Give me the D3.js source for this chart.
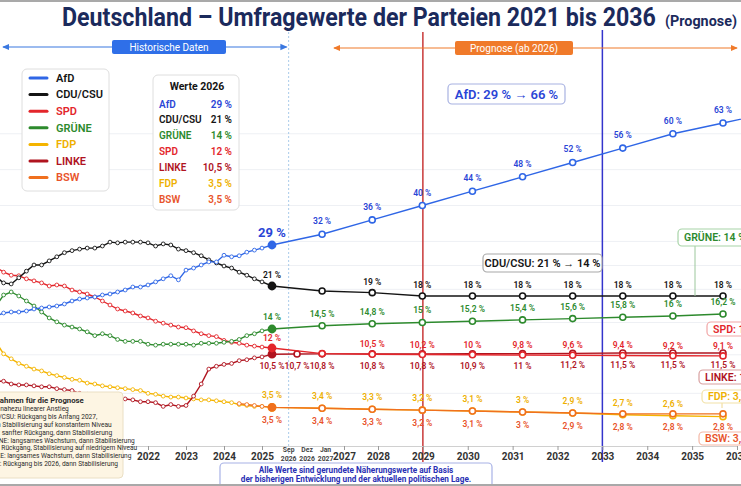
<!DOCTYPE html>
<meta charset="utf-8">
<script src="https://d3js.org/d3.v7.min.js"></script>
<style>
  body { margin: 0; background: #fff; }
  svg { display: block; font-family: Roboto, "Noto Sans", sans-serif; }
</style>

<div id="chart"></div>

<script>

var W = 741, H = 486

////  Daten
var parteien   = ["AfD", "CDU/CSU", "SPD", "GRÜNE", "FDP", "LINKE", "BSW"]
var farben     = ["#2f66e6", "#141414", "#e3262b", "#2d8a2d", "#f4b400", "#b0141f", "#f0701e"]
var textFarben = ["#2a45d6", "#141414", "#e3262b", "#2d8a2d", "#eeb000", "#b0141f", "#e8532a"]

// historische Werte, alle 0,2 Jahre
var histStart = 2018, histSchritt = 0.2
var histAfD    = [16.0, 16.3, 16.4, 16.4, 16.5, 16.7, 16.8, 16.9, 17.0, 17.2, 17.5, 17.7, 17.8, 17.9, 18.3, 18.6, 19.2, 19.8, 20.7, 20.7, 21.2, 21.8, 22.4, 23.0, 22.2, 24.1, 24.5, 25.1, 25.7, 25.7, 27.0, 26.7, 26.9, 27.6, 28.0, 28.4]
var histCDU    = [22.8, 21.6, 21.4, 22.6, 23.9, 25.1, 25.1, 25.9, 26.7, 27.5, 27.9, 28.2, 28.4, 28.4, 28.8, 29.8, 29.6, 29.8, 29.8, 29.8, 29.6, 28.8, 29.3, 29.0, 28.2, 27.9, 27.5, 26.9, 26.1, 25.5, 24.9, 24.5, 23.7, 23.1, 22.4, 21.8]
var histSPD    = [24.7, 23.7, 23.1, 23.0, 22.4, 22.0, 21.6, 21.0, 21.2, 21.0, 19.8, 19.2, 18.6, 17.9, 17.5, 17.1, 16.7, 16.5, 16.3, 16.0, 15.7, 15.2, 14.9, 14.6, 14.3, 14.2, 13.8, 13.5, 13.3, 13.2, 12.8, 12.6, 12.5, 12.3, 12.2, 12.1]
var histGruene = [17.0, 18.3, 19.2, 18.0, 17.5, 17.0, 16.4, 15.7, 15.1, 14.6, 14.3, 14.0, 13.7, 13.3, 13.5, 13.3, 12.9, 12.7, 12.7, 12.7, 12.4, 12.3, 12.4, 12.4, 12.4, 12.4, 12.3, 12.5, 12.5, 12.5, 12.6, 12.7, 12.9, 13.3, 13.5, 13.8]
var histFDP    = [12.6, 10.8, 8.7, 8.2, 7.9, 7.6, 7.4, 7.1, 6.9, 6.7, 6.5, 6.4, 6.1, 6.0, 5.8, 5.7, 5.6, 5.5, 5.4, 5.3, 5.0, 4.9, 4.7, 4.6, 4.6, 4.5, 4.4, 4.3, 4.3, 4.2, 4.1, 4.0, 3.8, 3.7, 3.6, 3.6]
var histLinke  = [6.3, 6.3, 6.0, 5.9, 5.9, 5.8, 5.7, 5.7, 5.5, 5.4, 5.3, 5.0, 4.9, 4.8, 4.7, 4.6, 4.5, 4.4, 4.3, 4.1, 4.1, 4.0, 3.6, 3.8, 3.6, 3.7, 4.7, 6.0, 7.6, 7.9, 8.1, 8.2, 8.5, 8.6, 8.8, 8.9]
var bswStart   = 2024.4
var histBSW    = [3.9, 3.8, 3.7, 3.6]

// Prognose
var progJahre  = [2026, 2027, 2028, 2029, 2030, 2031, 2032, 2033, 2034, 2035, 2036]
var progAfD    = [29, 32, 36, 40, 44, 48, 52, 56, 60, 63, 66]
var progCDU    = [21, 19.5, 19, 18, 18, 18, 18, 18, 18, 18]
var progSPD    = [12, 11, 10.5, 10.2, 10, 9.8, 9.6, 9.4, 9.2, 9.1]
var progGruene = [14, 14.5, 14.8, 15, 15.2, 15.4, 15.6, 15.8, 16, 16.2]
var progFDP    = [3.5, 3.4, 3.3, 3.2, 3.1, 3, 2.9, 2.7, 2.6, 2.5]
var progLinke  = [10.5, 10.8, 10.8, 10.8, 10.9, 11, 11.2, 11.5, 11.5, 11.5]
var zwischenLinke = [2026.5, 10.7]
var ohneLabel  = ["CDU/CSU 2027", "SPD 2027", "FDP 2035"]
var progBSW    = [3.5, 3.4, 3.3, 3.2, 3.1, 3, 2.9, 2.8, 2.8, 2.8]

// Achse (wie im Original, ungleichmäßig)
var achsenJahre = [2022, 2023, 2024, 2025, 2027, 2028, 2029, 2030, 2031, 2032, 2033, 2034, 2035, 2036]
var kleineTicks = [[2025.65, "Sep", "2026"], [2026.1, "Dez", "2026"], [2026.55, "Jan", "2027"]]

var annahmen = [
  "AfD: nahezu linearer Anstieg",
  "CDU/CSU: Rückgang bis Anfang 2027,",
  "dann Stabilisierung auf konstantem Niveau",
  "SPD: sanfter Rückgang, dann Stabilisierung",
  "GRÜNE: langsames Wachstum, dann Stabilisierung",
  "FDP: Rückgang, Stabilisierung auf niedrigem Niveau",
  "LINKE: langsames Wachstum, dann Stabilisierung",
  "BSW: Rückgang bis 2026, dann Stabilisierung"
]

var histListen = [histAfD, histCDU, histSPD, histGruene, histFDP, histLinke, histBSW]
var progListen = [progAfD, progCDU, progSPD, progGruene, progFDP, progLinke, progBSW]

function prozent(v) { return String(v).replace(".", ",") + " %" }

////  Skalen
var x = d3.scaleLinear().domain([2018, 2025, 2026, 2035]).range([-4, 262, 272, 723])
var xAchse = d3.scaleLinear().domain([2021, 2025, 2027, 2028, 2036]).range([110, 262, 344, 378, 737])
var y = d3.scaleLinear()
  .domain([0, 9, 11.5, 12, 14, 16, 18, 21, 29, 63, 70])
  .range([440, 356, 353, 348, 329, 316, 296, 286, 245, 123, 98])

var svg = d3.select("#chart").append("svg")
  .attr("width", W)
  .attr("height", H)

var defs = svg.append("defs")
function pfeil(id, farbe) {
  defs.append("marker").attr("id", id)
    .attr("viewBox", "0 0 8 8").attr("refX", 7).attr("refY", 4)
    .attr("markerWidth", 6).attr("markerHeight", 6)
    .attr("orient", "auto-start-reverse")
    .append("path").attr("d", "M0,0.5L8,4L0,7.5Z").attr("fill", farbe)
}
pfeil("pfeilBlau", "#3a78e0")
pfeil("pfeilOrange", "#f07a2a")

// Gitter
svg.append("g").selectAll("line")
  .data([5, 10, 15, 20, 25, 30, 40, 50, 60])
  .join("line")
    .attr("x1", 0).attr("x2", W)
    .attr("y1", d => y(d)).attr("y2", d => y(d))
    .attr("stroke", "#eef0f4")

// Rahmen
svg.append("rect").attr("x", 0).attr("y", 0).attr("width", W).attr("height", 2).attr("fill", "#a9a9a9")

////  Titel (auf Breite gestaucht)
function titel(text, x0, breite, groesse) {
  var t = svg.append("text")
    .attr("font-size", groesse).attr("font-weight", 700).attr("fill", "#1b2a5c")
    .text(text)
  var w = t.node().getComputedTextLength()
  t.attr("transform", "translate(" + x0 + ",26) scale(" + (breite / w) + ",1)")
}
titel("Deutschland – Umfragewerte der Parteien 2021 bis 2036", 62, 594, 25)
titel("(Prognose)", 665, 72, 15)

////  senkrechte Linien
svg.append("line")
  .attr("x1", xAchse(kleineTicks[0][0])).attr("x2", xAchse(kleineTicks[0][0]))
  .attr("y1", 32).attr("y2", 464)
  .attr("stroke", "#a9cbea").attr("stroke-dasharray", "2,2")
svg.append("line")
  .attr("x1", xAchse(2029)).attr("x2", xAchse(2029))
  .attr("y1", 32).attr("y2", 462)
  .attr("stroke", "#c93838").attr("stroke-width", 1.5)
svg.append("line")
  .attr("x1", xAchse(2033)).attr("x2", xAchse(2033))
  .attr("y1", 30).attr("y2", 462)
  .attr("stroke", "#3434cc").attr("stroke-width", 1.5)

////  Pfeile oben
svg.append("line")
  .attr("x1", 3).attr("x2", xAchse(kleineTicks[0][0]) - 2)
  .attr("y1", 47).attr("y2", 47)
  .attr("stroke", "#3a78e0").attr("stroke-width", 1.2)
  .attr("marker-start", "url(#pfeilBlau)").attr("marker-end", "url(#pfeilBlau)")
svg.append("rect").attr("x", 112).attr("y", 40).attr("width", 114).attr("height", 14).attr("rx", 2).attr("fill", "#2f6fe8")
svg.append("text").attr("x", 169).attr("y", 47).attr("dy", "0.35em")
  .attr("text-anchor", "middle").attr("font-size", 10).attr("fill", "#fff")
  .text("Historische Daten")

svg.append("line")
  .attr("x1", 334).attr("x2", 737)
  .attr("y1", 48).attr("y2", 48)
  .attr("stroke", "#f07a2a").attr("stroke-width", 1.2)
  .attr("marker-start", "url(#pfeilOrange)").attr("marker-end", "url(#pfeilOrange)")
svg.append("rect").attr("x", 455).attr("y", 41).attr("width", 118).attr("height", 14).attr("rx", 2).attr("fill", "#f07a2a")
svg.append("text").attr("x", 514).attr("y", 48).attr("dy", "0.35em")
  .attr("text-anchor", "middle").attr("font-size", 10).attr("fill", "#fff")
  .text("Prognose (ab 2026)")

////  Achse
var achse = svg.append("g")
  .attr("transform", "translate(0,446)")
  .call(d3.axisBottom(xAchse).tickValues(achsenJahre).tickFormat(d3.format("d")).tickSize(4).tickSizeOuter(0).tickPadding(3))
achse.select(".domain").attr("stroke", "#d0d0d0")
achse.selectAll(".tick line").attr("stroke", "#9a9a9a")
achse.selectAll(".tick text")
  .attr("font-size", 10).attr("font-weight", 700).attr("fill", "#333")
  .attr("font-family", "Roboto, sans-serif")

var klein = svg.append("g").selectAll("text")
  .data(kleineTicks)
  .join("text")
    .attr("x", d => xAchse(d[0]))
    .attr("y", 452)
    .attr("text-anchor", "middle")
    .attr("font-size", 6.8).attr("font-weight", 700).attr("fill", "#444")
klein.append("tspan").attr("x", d => xAchse(d[0])).text(d => d[1])
klein.append("tspan").attr("x", d => xAchse(d[0])).attr("dy", 8.5).text(d => d[2])

////  Serien
var serien = parteien.map(function (p, k) {
  var start = p == "BSW" ? bswStart : histStart
  var hist = histListen[k].map(function (v, i) {
    return { t: start + i * histSchritt, v: v, hist: true }
  })
  var prog = progListen[k].map(function (v, i) {
    return { t: progJahre[i], v: v, hist: false, label: ohneLabel.indexOf(p + " " + progJahre[i]) < 0 }
  })
  if (p == "LINKE") prog.splice(1, 0, { t: zwischenLinke[0], v: zwischenLinke[1], hist: false, label: true })
  return { name: p, farbe: farben[k], textFarbe: textFarben[k], hist: hist, prog: prog, punkte: hist.concat(prog) }
})

var reihenfolge = ["FDP", "BSW", "LINKE", "SPD", "GRÜNE", "CDU/CSU", "AfD"]
var labelDy = { "AfD": -13, "CDU/CSU": -11, "SPD": -10, "GRÜNE": -12, "FDP": -12, "LINKE": 12, "BSW": 13 }

var linie = d3.line().x(d => x(d.t)).y(d => y(d.v))

reihenfolge.forEach(function (name) {
  var s = serien.find(d => d.name == name)
  var g = svg.append("g")

  g.append("path")
    .attr("d", linie(s.punkte))
    .attr("fill", "none")
    .attr("stroke", s.farbe)
    .attr("stroke-width", 1.4)

  g.selectAll("circle.h")
    .data(s.hist)
    .join("circle")
      .attr("class", "h")
      .attr("cx", d => x(d.t)).attr("cy", d => y(d.v))
      .attr("r", 1.9)
      .attr("fill", "#fff").attr("stroke", s.farbe).attr("stroke-width", 0.9)

  g.selectAll("circle.p")
    .data(s.prog)
    .join("circle")
      .attr("class", "p")
      .attr("cx", d => x(d.t)).attr("cy", d => y(d.v))
      .attr("r", d => d.t == 2026 ? 3.6 : 3)
      .attr("fill", d => d.t == 2026 ? s.farbe : "#fff")
      .attr("stroke", s.farbe).attr("stroke-width", 1.6)
})

// Wertbeschriftungen
reihenfolge.forEach(function (name) {
  var s = serien.find(d => d.name == name)
  svg.append("g").selectAll("text")
    .data(s.prog.filter(d => d.label))
    .join("text")
      .attr("x", d => x(d.t))
      .attr("y", d => y(d.v) + labelDy[name])
      .attr("dy", "0.35em")
      .attr("text-anchor", "middle")
      .attr("font-size", d => (name == "AfD" && d.t == 2026) ? 13 : 8.5)
      .attr("font-weight", d => (name == "AfD" && d.t == 2026) ? 700 : 600)
      .attr("fill", s.textFarbe)
      .text(d => prozent(d.v))
})

////  Legende
var legende = svg.append("g")
legende.append("rect")
  .attr("x", 22).attr("y", 69).attr("width", 87).attr("height", 122).attr("rx", 5)
  .attr("fill", "#fff").attr("stroke", "#dedede")
var eintrag = legende.selectAll("g")
  .data(parteien)
  .join("g")
    .attr("transform", (d, i) => "translate(0," + (78 + i * 16.6) + ")")
eintrag.append("line")
  .attr("x1", 30).attr("x2", 47)
  .attr("stroke", (d, i) => farben[i]).attr("stroke-width", 3).attr("stroke-linecap", "round")
eintrag.append("text")
  .attr("x", 56).attr("dy", "0.35em")
  .attr("font-size", 11).attr("font-weight", 600)
  .attr("fill", (d, i) => i < 2 ? "#141414" : textFarben[i])
  .text(d => d)

////  Werte 2026
var werte = parteien.map((p, k) => ({ name: p, wert: progListen[k][0], farbe: textFarben[k] }))
  .sort((a, b) => b.wert - a.wert)
var box = svg.append("g")
box.append("rect")
  .attr("x", 153).attr("y", 75).attr("width", 86).attr("height", 135).attr("rx", 5)
  .attr("fill", "#fff").attr("stroke", "#dedede")
box.append("text")
  .attr("x", 197).attr("y", 86).attr("dy", "0.35em")
  .attr("text-anchor", "middle").attr("font-size", 10.5).attr("font-weight", 700).attr("fill", "#141414")
  .text("Werte 2026")
var zeile = box.selectAll("g.zeile")
  .data(werte)
  .join("g")
    .attr("class", "zeile")
    .attr("transform", (d, i) => "translate(0," + (104 + i * 15.9) + ")")
zeile.append("text")
  .attr("x", 159).attr("dy", "0.35em")
  .attr("font-size", 10).attr("font-weight", 600).attr("fill", d => d.farbe)
  .text(d => d.name)
zeile.append("text")
  .attr("x", 232).attr("dy", "0.35em").attr("text-anchor", "end")
  .attr("font-size", 10).attr("font-weight", 600).attr("fill", d => d.farbe)
  .text(d => prozent(d.wert))

////  Hinweisboxen
function hinweis(bx, by, bw, bh, text, rand, farbe, groesse, mitte) {
  var g = svg.append("g")
  g.append("rect")
    .attr("x", bx).attr("y", by).attr("width", bw).attr("height", bh).attr("rx", 4)
    .attr("fill", "#fff").attr("stroke", rand).attr("stroke-width", 1.2)
  g.append("text")
    .attr("x", mitte ? bx + bw / 2 : bx + 6)
    .attr("y", by + bh / 2).attr("dy", "0.36em")
    .attr("text-anchor", mitte ? "middle" : "start")
    .attr("font-size", groesse).attr("font-weight", 600).attr("fill", farbe)
    .text(text)
  return g
}

hinweis(448, 84, 117, 20, "AfD: " + prozent(progAfD[0]) + " → " + prozent(progAfD[progAfD.length - 1]), "#a8b2e2", "#2a45d6", 13, true)
hinweis(483, 254, 119, 18, "CDU/CSU: " + prozent(progCDU[0]) + " → 14 %", "#a8a8a8", "#141414", 11, true)

svg.append("line").attr("x1", 695).attr("x2", 695).attr("y1", 246).attr("y2", 296).attr("stroke", "#9cc79c")
hinweis(678, 229, 90, 17, "GRÜNE: " + prozent(progGruene[0]), "#a8d4a8", "#2d8a2d", 10.5, false)

hinweis(707, 322, 80, 14, "SPD: " + prozent(progSPD[0]), "#f1a6a6", "#e3262b", 10.5, false)
hinweis(699, 370, 90, 14, "LINKE: " + prozent(progLinke[0]), "#d8a0a0", "#b0141f", 10.5, false)
svg.append("line").attr("x1", 722).attr("x2", 722).attr("y1", 403).attr("y2", 408).attr("stroke", "#f0d890")
hinweis(702, 390, 80, 13, "FDP: " + prozent(progFDP[0]), "#f2e2a8", "#eeb000", 10.5, false)
hinweis(699, 432, 80, 13, "BSW: " + prozent(progBSW[0]), "#f3b8a6", "#e8532a", 10.5, false)

////  Annahmen (links unten)
var ann = svg.append("g")
ann.append("rect")
  .attr("x", -22).attr("y", 392).attr("width", 145).attr("height", 86).attr("rx", 4)
  .attr("fill", "#fdf5e3").attr("stroke", "#eadfc4")
ann.append("text")
  .attr("x", -14).attr("y", 400).attr("dy", "0.35em")
  .attr("font-size", 7.8).attr("font-weight", 700).attr("fill", "#2a2a2a")
  .text("Annahmen für die Prognose")
ann.selectAll("text.z")
  .data(annahmen)
  .join("text")
    .attr("class", "z")
    .attr("x", -14)
    .attr("y", (d, i) => 409 + i * 7.8).attr("dy", "0.35em")
    .attr("font-size", 6.6).attr("fill", "#2a2a2a")
    .text(d => d)

////  Fußnote
svg.append("rect")
  .attr("x", 220).attr("y", 463).attr("width", 272).attr("height", 26).attr("rx", 4)
  .attr("fill", "#fff").attr("stroke", "#a8b2e6").attr("stroke-width", 1.2)
svg.append("text")
  .attr("x", 356).attr("y", 470).attr("dy", "0.35em")
  .attr("text-anchor", "middle").attr("font-size", 8.2).attr("font-weight", 700).attr("fill", "#2a30b4")
  .text("Alle Werte sind gerundete Näherungswerte auf Basis")
svg.append("text")
  .attr("x", 356).attr("y", 479).attr("dy", "0.35em")
  .attr("text-anchor", "middle").attr("font-size", 8.2).attr("font-weight", 700).attr("fill", "#2a30b4")
  .text("der bisherigen Entwicklung und der aktuellen politischen Lage.")
svg.append("rect").attr("x", 0).attr("y", 484).attr("width", W).attr("height", 2).attr("fill", "#a9a9a9")

</script>
